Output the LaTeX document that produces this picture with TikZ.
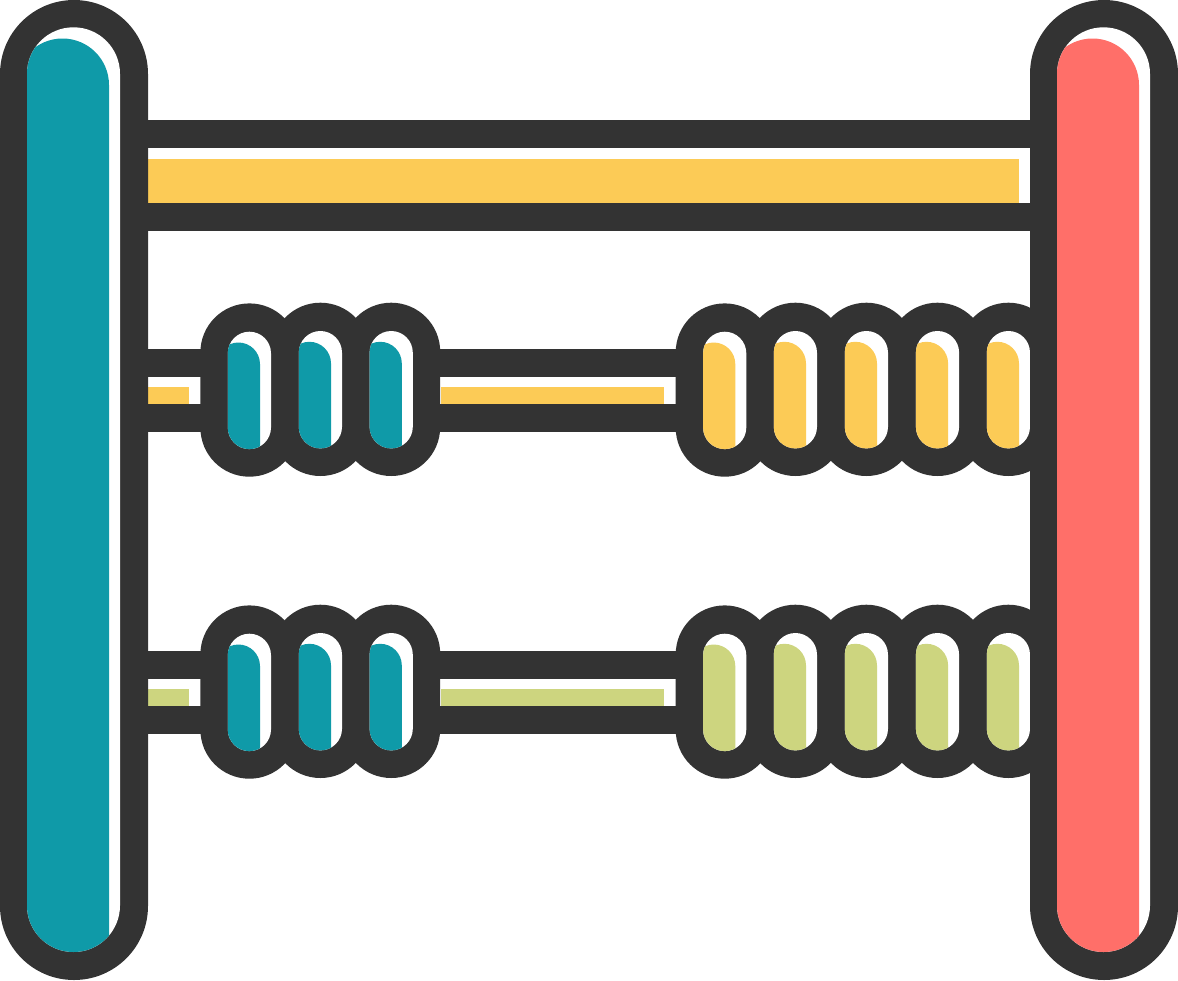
\documentclass[tikz,border=0pt]{standalone}
\definecolor{ink}{HTML}{333333}
\definecolor{teal1}{HTML}{0F9AA8}
\definecolor{sun}{HTML}{FCCB56}
\definecolor{coral}{HTML}{FF6F69}
\definecolor{olive1}{HTML}{CDD57F}
% pill: left, top, right, bottom, path options (explicit Bezier quarter circles)
\newcommand{\abpill}[5]{%
  \pgfmathsetmacro\abl{#1}\pgfmathsetmacro\abt{#2}%
  \pgfmathsetmacro\abR{#3}\pgfmathsetmacro\abb{#4}%
  \pgfmathsetmacro\abr{(\abR-\abl)/2}%
  \pgfmathsetmacro\abk{\abr*0.4477}%
  \path[#5] (\abl,\abt+\abr)
    .. controls (\abl,\abt+\abk) and (\abl+\abk,\abt) .. (\abl+\abr,\abt)
    .. controls (\abR-\abk,\abt) and (\abR,\abt+\abk) .. (\abR,\abt+\abr)
    -- (\abR,\abb-\abr)
    .. controls (\abR,\abb-\abk) and (\abR-\abk,\abb) .. (\abR-\abr,\abb)
    .. controls (\abl+\abk,\abb) and (\abl,\abb-\abk) .. (\abl,\abb-\abr)
    -- cycle;
}
\newcommand{\abbead}[2]{%
  \abpill{#1-49}{#2-28.3}{#1+49}{#2+145}{fill=ink}%
}
\newcommand{\abbeadcol}[3]{%
  \abpill{#1-21.6}{#2}{#1+21.6}{#2+117.4}{fill=white}%
  \begin{scope}
    \abpill{#1-21.6}{#2}{#1+21.6}{#2+117.4}{clip}%
    \abpill{#1-32.6}{#2+10.8}{#1+10.6}{#2+170}{fill=#3}%
  \end{scope}
}
% post: outer left x, colour
\newcommand{\abpost}[2]{%
  \abpill{#1}{0}{#1+148}{980}{fill=ink}%
  \abpill{#1+27}{27.3}{#1+120}{952}{fill=white}%
  \begin{scope}
    \abpill{#1+27}{27.3}{#1+120}{952}{clip}%
    \abpill{#1+16}{38.5}{#1+109}{1100}{fill=#2}%
  \end{scope}
}
% rod: top y, stripe colour
\newcommand{\abrod}[2]{%
  \fill[ink] (140,#1) rectangle (1040,#1+27.5);
  \fill[ink] (140,#1+55) rectangle (1040,#1+83);
  \fill[#2] (148,#1+38) rectangle (189,#1+55);
  \fill[#2] (441,#1+38) rectangle (664,#1+55);
}
\begin{document}
\begin{tikzpicture}[x=1pt,y=-1pt]
  \useasboundingbox (0,0) rectangle (1178,980);
  \fill[white] (0,0) rectangle (1178,980);
  % top bar
  \fill[ink] (140,120) rectangle (1040,148);
  \fill[ink] (140,203) rectangle (1040,231);
  \fill[sun] (148,159) rectangle (1019,203);
  % rods
  \abrod{349}{sun}
  \abrod{651}{olive1}
  % beads
  \foreach \rowy/\col in {331/sun,633/olive1}{
    \foreach \cx/\dy in {249.4/0.7,320.4/0,391.2/0,724.7/0.7,795.4/0,866.4/0,937.5/0,1008.4/0}{
      \abbead{\cx}{\rowy+\dy}
    }
    \foreach \cx/\dy in {249.4/0.7,320.4/0,391.2/0}{
      \abbeadcol{\cx}{\rowy+\dy}{teal1}
    }
    \foreach \cx/\dy in {724.7/0.7,795.4/0,866.4/0,937.5/0,1008.4/0}{
      \abbeadcol{\cx}{\rowy+\dy}{\col}
    }
  }
  % posts
  \abpost{0}{teal1}
  \abpost{1030}{coral}
\end{tikzpicture}
\end{document}
